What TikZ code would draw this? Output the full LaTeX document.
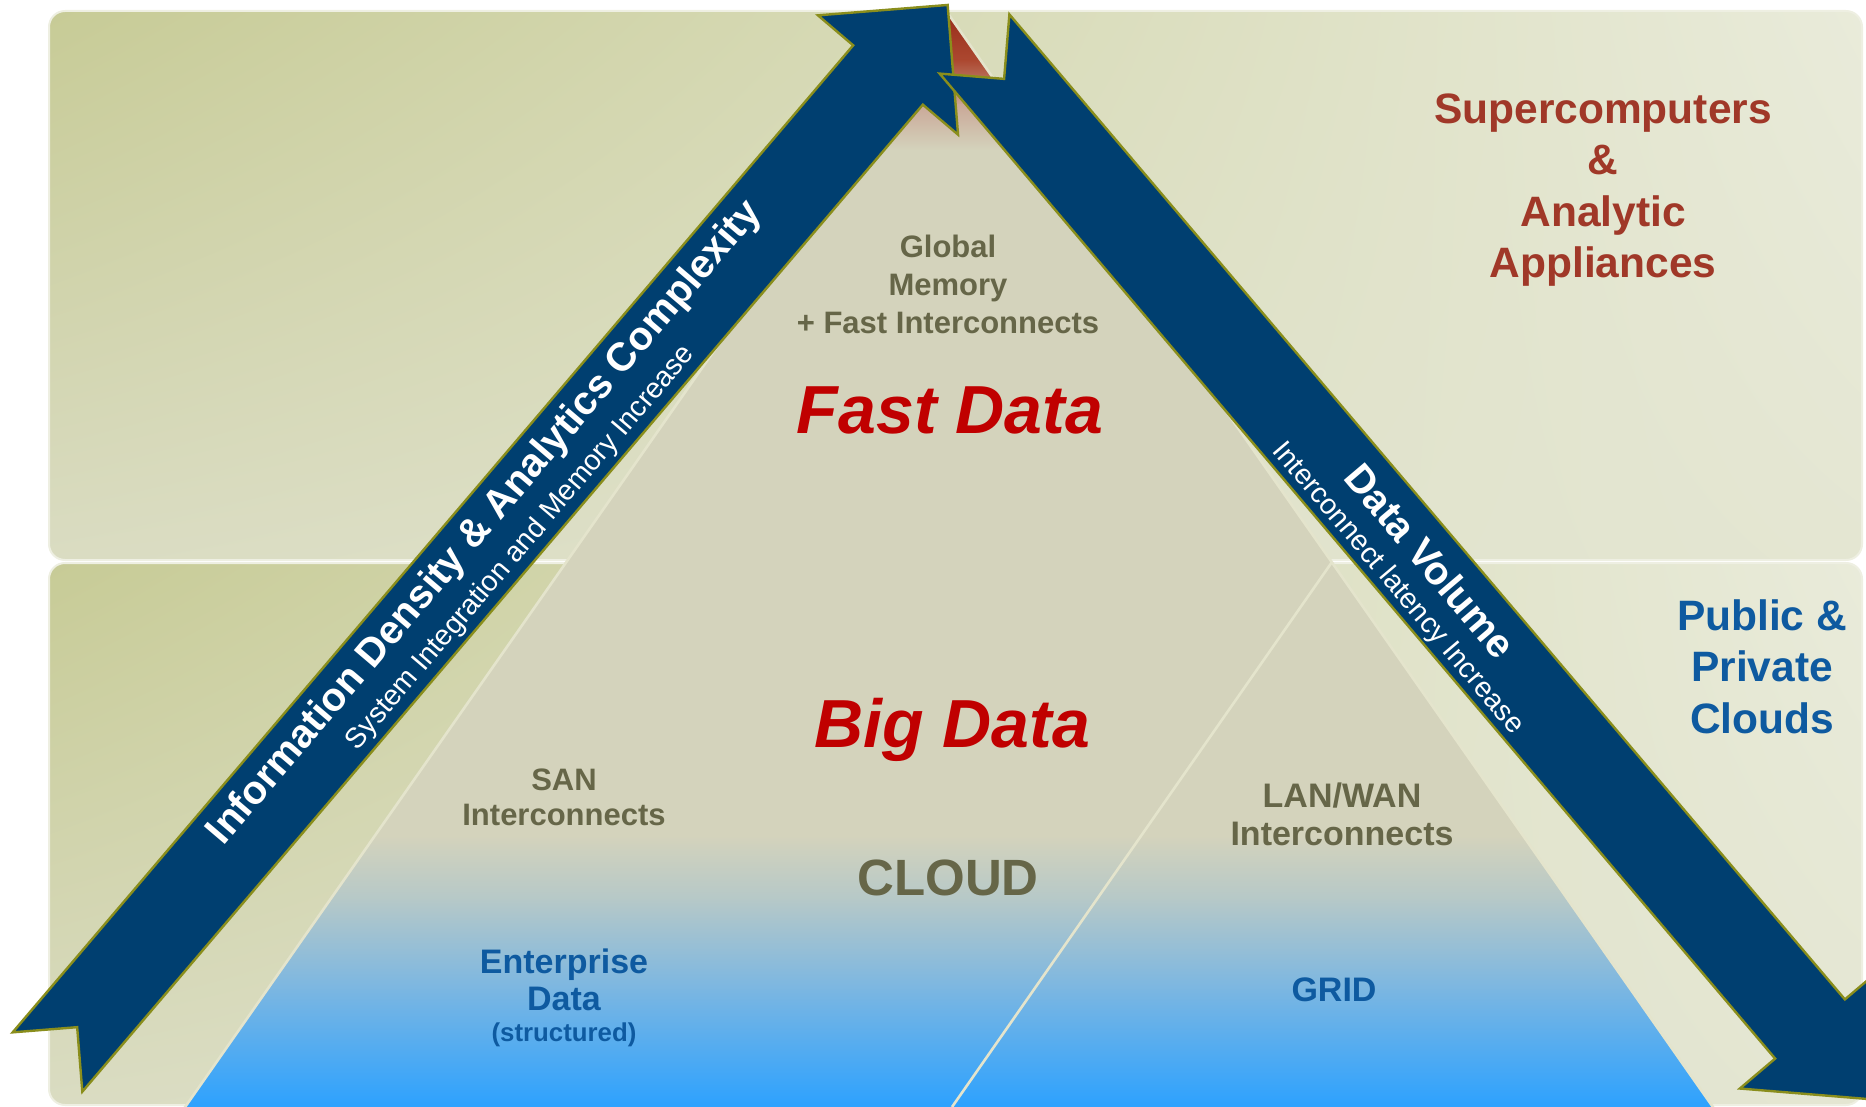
\documentclass[tikz,border=0pt]{standalone}
\usepackage{fontspec}
\setmainfont{Liberation Sans}
\usetikzlibrary{calc,shadings}
\definecolor{navy}{RGB}{0,63,112}
\definecolor{rim}{RGB}{138,142,28}
\definecolor{panelolive}{RGB}{199,203,150}
\definecolor{panellight}{RGB}{218,220,194}
\definecolor{panelpale}{RGB}{233,235,218}
\definecolor{panelright}{RGB}{228,230,210}
\definecolor{panelrim}{RGB}{238,239,226}
\definecolor{sand}{RGB}{212,211,188}
\definecolor{seam}{RGB}{228,228,204}
\definecolor{apexred}{RGB}{150,42,24}
\definecolor{apexmid}{RGB}{172,72,48}
\definecolor{apexpink}{RGB}{202,168,152}
\definecolor{mist}{RGB}{181,200,200}
\definecolor{skyblue}{RGB}{122,182,226}
\definecolor{deepsky}{RGB}{43,161,255}
\definecolor{olivetext}{RGB}{102,102,72}
\definecolor{hotred}{RGB}{192,0,0}
\definecolor{brick}{RGB}{160,56,40}
\definecolor{steelblue}{RGB}{14,90,160}
\newcommand{\shaftw}{45.75pt}
\newcommand{\headw}{92pt}
\newcommand{\bigarrow}[2]{%
  \draw[arrowbody] ($(#1)!\shaftw!90:(#2)$) -- ($(#1)!\shaftw!(#2)$)
    -- ($(#1)!\shaftw!-90:(#2)$) -- ($(#2)!\shaftw!90:(#1)$)
    -- ($(#2)!\headw!90:(#1)$) -- ($(#2)!-\headw!(#1)$)
    -- ($(#2)!\headw!-90:(#1)$) -- ($(#2)!\shaftw!-90:(#1)$) -- cycle;}
\tikzset{
    panel/.style = {rounded corners=16pt, draw=panelrim, line width=2pt,
                 upper left=panelolive, upper right=panelpale,
                 lower left=panellight, lower right=panelright},
    arrowbody/.style = {fill=navy, draw=rim, line width=2.4pt, line join=miter},
    seamline/.style = {draw=seam, line width=2.6pt},
    tier/.style = {font=\bfseries\fontsize{31}{38}\selectfont, text=olivetext,
                 align=center, inner sep=0pt},
    bluetier/.style = {font=\bfseries\fontsize{34}{37}\selectfont, text=steelblue,
                 align=center, inner sep=0pt},
    hotword/.style = {font=\bfseries\itshape\fontsize{68}{80}\selectfont, text=hotred,
                 inner sep=0pt, anchor=base},
    sidetext/.style = {font=\bfseries\fontsize{42.5}{51.5}\selectfont,
                 align=center, inner sep=0pt},
    ribbon/.style = {font=\bfseries\fontsize{40}{48}\selectfont, text=white, inner sep=0pt},
    ribbonsub/.style = {font=\fontsize{28.5}{34}\selectfont, text=white, inner sep=0pt},
}

\begin{document}
\begin{tikzpicture}[x=1pt,y=-1pt]
\useasboundingbox (0,0) rectangle (1866,1107);
\clip (0,0) rectangle (1866,1107);
\shadedraw[panel] (49,11) rectangle (1862,560);
\shadedraw[panel] (49,563) rectangle (1862,1105);

\coordinate (apex) at (949,15);
\coordinate (pyrl) at (183,1110);
\coordinate (pyrr) at (1715,1110);
\coordinate (gridtop) at (1332,562);
\coordinate (gridfoot) at (952,1107);
\begin{scope}
\clip (apex) -- (pyrr) -- (pyrl) -- cycle;
\fill[sand] (0,0) rectangle (1866,1107);
\shade[top color=apexred, bottom color=apexmid] (0,8) rectangle (1866,61);
\shade[top color=apexmid, bottom color=apexpink] (0,60) rectangle (1866,106);
\shade[top color=apexpink, bottom color=sand] (0,105) rectangle (1866,150);
\shade[top color=sand, bottom color=mist] (0,835) rectangle (1866,901);
\shade[top color=mist, bottom color=skyblue] (0,900) rectangle (1866,991);
\shade[top color=skyblue, bottom color=deepsky] (0,990) rectangle (1866,1110);
\end{scope}
\draw[seamline] (pyrl) -- (apex) -- (pyrr);
\draw[seamline] (gridtop) -- (gridfoot);

\coordinate (lt) at (47.5,1062);
\coordinate (lb) at (888,75);
\coordinate (rt) at (974.5,44);
\coordinate (rb) at (1810,1029);
\bigarrow{lt}{lb}
\bigarrow{rt}{rb}

\node[ribbon, rotate=49.6] (density) at (485.4,523.1) {Information Density \& Analytics Complexity};
\node[ribbonsub, rotate=49.6] (integration) at (520.8,547.9) {System Integration and Memory Increase};
\node[ribbon, rotate=-49.7] (volume) at (1430.4,560.7) {Data Volume};
\node[ribbonsub, rotate=-49.7] (latency) at (1397.5,588.5) {Interconnect latency Increase};

\node[tier] (global) at (948,284) {Global\\Memory\\+ Fast Interconnects};
\node[hotword] (fast) at (950,433) {Fast Data};
\node[hotword] (big) at (952,747) {Big Data};
\node[tier, font=\bfseries\fontsize{51}{61}\selectfont, anchor=base] (cloud) at (948,895) {CLOUD};
\node[tier, font=\bfseries\fontsize{31}{35}\selectfont] (san) at (564,797) {SAN\\Interconnects};
\node[bluetier] (enterprise) at (564,980) {Enterprise\\Data};
\node[bluetier, font=\bfseries\fontsize{25.8}{31}\selectfont, anchor=base] (structured) at (564,1041.7) {(structured)};
\node[tier, font=\bfseries\fontsize{34}{38}\selectfont] (lanwan) at (1342,814) {LAN/WAN\\Interconnects};
\node[bluetier, anchor=base] (grid) at (1334,1001) {GRID};
\node[sidetext, text=brick] (super) at (1603,190) {Supercomputers\\\&\\Analytic\\Appliances};
\node[sidetext, text=steelblue] (clouds) at (1762,666.5) {Public \&\\Private\\Clouds};
\end{tikzpicture}
\end{document}
